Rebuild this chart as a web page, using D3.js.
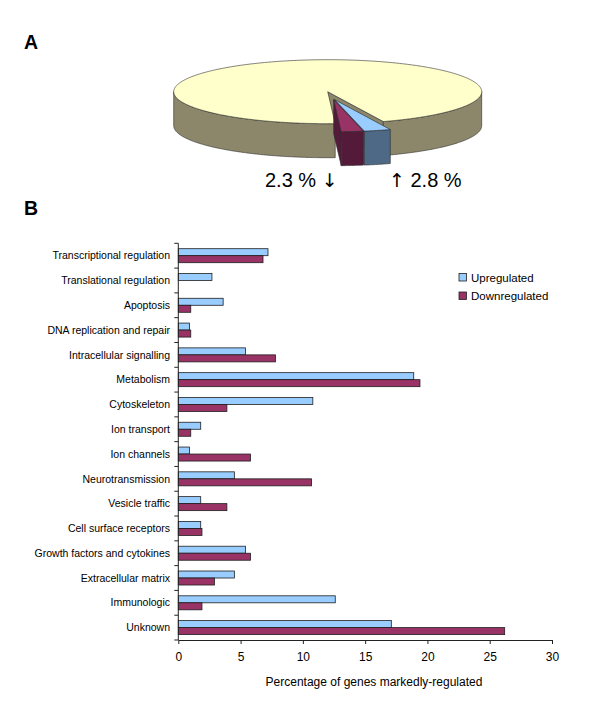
<!DOCTYPE html>
<html>
<head>
<meta charset="utf-8">
<script src="https://cdn.jsdelivr.net/npm/d3@7"></script>
<style>
  body { margin: 0; background: #fff; }
  text { font-family: "Liberation Sans", Arial, sans-serif; fill: #000; }
  .arrow { font-family: "DejaVu Sans", sans-serif; }
</style>
</head>
<body>
<svg id="chart" width="600" height="726"></svg>
<script>
// ---------- DATA ----------
const pieLabels = ["Downregulated", "Upregulated", "Unchanged"];
const pieValues = [2.3, 2.8, 94.9];
const pieNumbers = ["2.3 %", "2.8 %"];
const pieArrows = ["\u2193", "\u2191"];

const categories = [
  "Transcriptional regulation", "Translational regulation", "Apoptosis",
  "DNA replication and repair", "Intracellular signalling", "Metabolism",
  "Cytoskeleton", "Ion transport", "Ion channels", "Neurotransmission",
  "Vesicle traffic", "Cell surface receptors", "Growth factors and cytokines",
  "Extracellular matrix", "Immunologic", "Unknown"
];
const upregulated   = [7.2, 2.7, 3.6, 0.9, 5.4, 18.9, 10.8, 1.8, 0.9, 4.5, 1.8, 1.8, 5.4, 4.5, 12.6, 17.1];
const downregulated = [6.8, 0.0, 1.0, 1.0, 7.8, 19.4, 3.9, 1.0, 5.8, 10.7, 3.9, 1.9, 5.8, 2.9, 1.9, 26.2];
const seriesNames = ["Upregulated", "Downregulated"];
const xTicks = [0, 5, 10, 15, 20, 25, 30];

// ---------- STYLE ----------
const barColors = ["#99CCFF", "#993366"];
const pieTop  = ["#993366", "#99CCFF", "#FFFFCC"];
const pieSide = ["#531B39", "#4E6986", "#8C876B"];
const pieOffset = [[6, 8], [7, 8], [0, 0]];

const svg = d3.select("#chart");
svg.append("rect").attr("width", 600).attr("height", 726).attr("fill", "#fff");

// panel letters
svg.append("text").attr("x", 24).attr("y", 48.5).attr("font-size", 19.5)
  .attr("font-weight", "bold").text("A");
svg.append("text").attr("x", 24).attr("y", 215).attr("font-size", 19.5)
  .attr("font-weight", "bold").text("B");

// ---------- 3D PIE ----------
const cx = 327.7, cy = 91.7, rx = 154, ry = 32, depth = 34;
const theta0 = 2.8 * Math.PI / 180;
const pie = d3.pie().sort(null).value(d => d)
  .startAngle(Math.PI - theta0).endAngle(Math.PI - theta0 - 2 * Math.PI);
const arcs = pie(pieValues);
const pt = (t, dx, dy, z) => [cx + dx + rx * Math.sin(t), cy + dy + ry * Math.cos(t) + z];
const line = d3.line();

function arcPts(a, b, dx, dy, z) {
  const n = Math.max(2, Math.ceil(Math.abs(b - a) / 0.01));
  return d3.range(n + 1).map(i => pt(a + (b - a) * i / n, dx, dy, z));
}
function intersect(a0, a1, lo, hi) {
  const s = Math.max(a0, lo), e = Math.min(a1, hi);
  return s < e ? [s, e] : null;
}

const pieG = svg.append("g").attr("stroke", "#2b2b2b").attr("stroke-width", 0.6)
  .attr("stroke-linejoin", "round");

// draw order: big slice, upregulated, downregulated
[2, 1, 0].forEach(i => {
  const a = arcs[i];
  const t0 = Math.PI - a.startAngle, t1 = Math.PI - a.endAngle;
  const [dx, dy] = pieOffset[i];
  const g = pieG.append("g");
  const apexT = [cx + dx, cy + dy], apexB = [cx + dx, cy + dy + depth];
  if (Math.sin(t0) > 0) {
    g.append("path").attr("fill", pieSide[i])
      .attr("d", line([apexT, pt(t0, dx, dy, 0), pt(t0, dx, dy, depth), apexB]) + "Z");
  }
  if (Math.sin(t1) < 0) {
    g.append("path").attr("fill", pieSide[i])
      .attr("d", line([apexT, pt(t1, dx, dy, 0), pt(t1, dx, dy, depth), apexB]) + "Z");
  }
  [[-Math.PI / 2, Math.PI / 2], [1.5 * Math.PI, 2.5 * Math.PI]].forEach(([lo, hi]) => {
    const seg = intersect(t0, t1, lo, hi);
    if (!seg) return;
    const top = arcPts(seg[0], seg[1], dx, dy, 0);
    const bot = arcPts(seg[1], seg[0], dx, dy, depth);
    g.append("path").attr("fill", pieSide[i]).attr("d", line(top.concat(bot)) + "Z");
  });
  g.append("path").attr("fill", pieTop[i])
    .attr("d", line([apexT].concat(arcPts(t0, t1, dx, dy, 0))) + "Z");
});

const lab1 = svg.append("text").attr("x", 265).attr("y", 187).attr("font-size", 20);
lab1.append("tspan").text(pieNumbers[0] + " ");
lab1.append("tspan").attr("class", "arrow").attr("font-size", 19).text(pieArrows[0]);
const lab2 = svg.append("text").attr("x", 389).attr("y", 187).attr("font-size", 20);
lab2.append("tspan").attr("class", "arrow").attr("font-size", 19).text(pieArrows[1]);
lab2.append("tspan").text(" " + pieNumbers[1]);

// ---------- BAR CHART ----------
const x = d3.scaleLinear().domain([0, 30]).range([178.3, 552]);
const y = d3.scaleBand().domain(categories).range([243.3, 640]).padding(0);
const ys = d3.scaleBand().domain(seriesNames).range([0, y.bandwidth()])
  .paddingInner(0).paddingOuter(0.77);

const seriesData = [upregulated, downregulated];
const barG = svg.append("g");
seriesData.forEach((vals, si) => {
  barG.selectAll(null).data(vals).join("rect")
    .attr("x", x(0))
    .attr("y", (d, i) => y(categories[i]) + ys(seriesNames[si]))
    .attr("width", d => x(d) - x(0))
    .attr("height", ys.bandwidth())
    .attr("fill", barColors[si])
    .attr("stroke", d => d > 0 ? "#1e1e1e" : "none")
    .attr("stroke-width", 0.8);
});

// x axis
const xAxis = svg.append("g").attr("transform", `translate(0,${640})`)
  .call(d3.axisBottom(x).tickValues(xTicks).tickSize(4).tickSizeOuter(0).tickPadding(8));
xAxis.select(".domain").attr("stroke", "#222");
xAxis.selectAll(".tick line").attr("stroke", "#222");
xAxis.selectAll(".tick text").attr("font-size", 12)
  .attr("font-family", '"Liberation Sans", Arial, sans-serif').attr("fill", "#000");

// y axis
const yG = svg.append("g");
yG.append("line").attr("x1", x(0)).attr("x2", x(0)).attr("y1", y.range()[0]).attr("y2", y.range()[1])
  .attr("stroke", "#222");
yG.selectAll(null).data(d3.range(categories.length + 1)).join("line")
  .attr("x1", x(0) - 4).attr("x2", x(0))
  .attr("y1", i => y.range()[0] + i * y.step()).attr("y2", i => y.range()[0] + i * y.step())
  .attr("stroke", "#222");
yG.selectAll(null).data(categories).join("text")
  .attr("x", x(0) - 8.3).attr("y", d => y(d) + y.bandwidth() / 2)
  .attr("dy", "0.35em").attr("text-anchor", "end").attr("font-size", 10.5)
  .text(d => d);

// x axis title
svg.append("text").attr("x", 374).attr("y", 686).attr("text-anchor", "middle")
  .attr("font-size", 12).text("Percentage of genes markedly-regulated");

// legend
const leg = svg.append("g");
seriesNames.forEach((s, i) => {
  leg.append("rect").attr("x", 459).attr("y", 273.5 + i * 18.5).attr("width", 7.5).attr("height", 7.5)
    .attr("fill", barColors[i]).attr("stroke", "#1e1e1e").attr("stroke-width", 0.8);
  leg.append("text").attr("x", 471).attr("y", 281.5 + i * 18.5).attr("font-size", 11.5).text(s);
});
</script>
</body>
</html>
